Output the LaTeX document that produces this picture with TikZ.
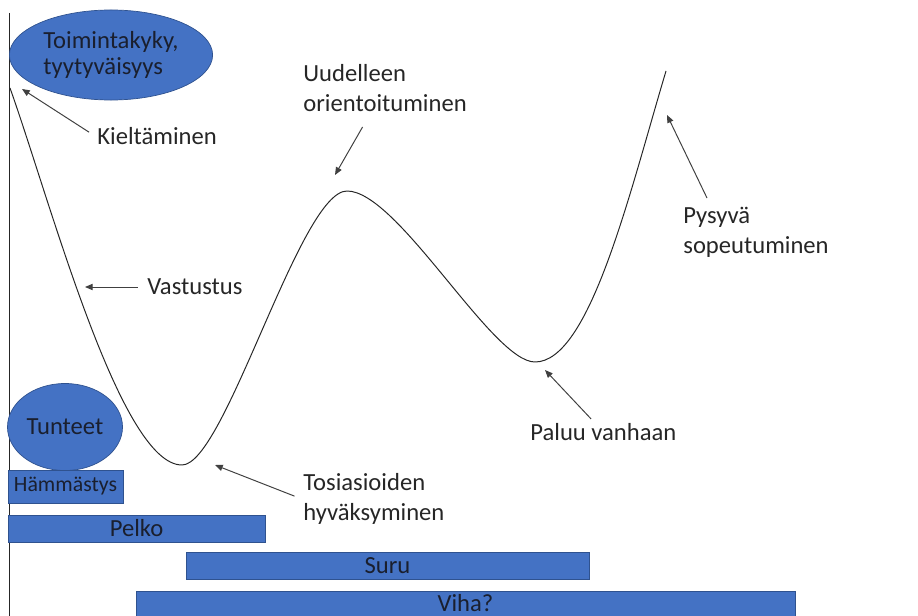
\documentclass[tikz,border=0pt]{standalone}
\usepackage{fontspec}
\setmainfont{Carlito}
\usepackage{tikz}
\usetikzlibrary{arrows.meta,shapes.geometric}

\definecolor{boxblue}{HTML}{4472C4}
\definecolor{boxedge}{HTML}{2F528F}
\definecolor{inktext}{HTML}{1A1F2E}
\definecolor{labtext}{HTML}{262626}

\tikzset{
  blob/.style={ellipse,fill=boxblue,draw=boxedge,line width=0.5pt,inner sep=0pt,text=inktext},
  bar/.style={rectangle,fill=boxblue,draw=boxedge,line width=0.5pt,inner sep=0pt,text=inktext},
  lbl/.style={inner sep=1.5pt,text=labtext,align=left},
  arr/.style={draw=black!75,line width=0.7pt,-{Triangle[length=5.5pt,width=4.5pt]}},
  curve/.style={draw=black!85,line width=0.7pt}
}

\begin{document}
\begin{tikzpicture}[x=0.025cm,y=-0.025cm,font=\fontsize{17.5}{21}\selectfont]
  \useasboundingbox (0,0) rectangle (918,616);

  % the axis on the left
  \draw[black!85,line width=0.7pt] (9,13) -- (9,616);

  % the curve
  \draw[curve] (10,88) .. controls (50,200) and (120,465) .. (182,465)
               .. controls (225,465) and (300,191) .. (347,191)
               .. controls (398,191) and (492,362) .. (535,362)
               .. controls (590,362) and (630,191) .. (666,71);

  % the two ellipses
  \node[blob,minimum width=5.08cm,minimum height=2.25cm,align=left,
        font=\fontsize{17.5}{18.5}\selectfont] (toim) at (111,55) {Toimintakyky,\\tyytyväisyys};
  \node[blob,minimum width=2.875cm,minimum height=2.175cm] (tunt) at (65,427) {Tunteet};

  % the feeling bars
  \node[bar,minimum width=2.875cm,minimum height=0.825cm,font=\fontsize{15.5}{18}\selectfont] (hamm) at (65.5,486.5) {Hämmästys};
  \node[bar,minimum width=6.425cm,minimum height=0.675cm] (pelko) at (136.5,528.5) {Pelko};
  \node[bar,minimum width=10.075cm,minimum height=0.675cm] (suru) at (387.5,565.5) {Suru};
  \node[bar,minimum width=16.475cm,minimum height=0.625cm] (viha) at (465.5,603.5) {Viha?};

  % stage labels
  \node[lbl,anchor=west] (kiel) at (95,136) {Kieltäminen};
  \node[lbl,anchor=west] (vast) at (145,287) {Vastustus};
  \node[lbl,anchor=north west] (uud) at (301,62) {Uudelleen\\orientoituminen};
  \node[lbl,anchor=north west] (tosi) at (301,471) {Tosiasioiden\\hyväksyminen};
  \node[lbl,anchor=west] (palu) at (528,432) {Paluu vanhaan};
  \node[lbl,anchor=north west] (pysy) at (681,205) {Pysyvä\\sopeutuminen};

  % arrow ends on the curve
  \coordinate (kielTip) at (22,89);
  \coordinate (vastTip) at (85,287);
  \coordinate (uudTip) at (335,175);
  \coordinate (tosiTip) at (215,465);
  \coordinate (paluTip) at (545,370);
  \coordinate (pysyTip) at (667,115);

  % arrows
  \draw[arr,shorten <=5pt] (kiel.west) -- (kielTip);
  \draw[arr,shorten <=5pt] (vast.west) -- (vastTip);
  \draw[arr,shorten <=11pt] (uud) -- (uudTip);
  \draw[arr,shorten <=5pt] (tosi.west) -- (tosiTip);
  \draw[arr,shorten <=2pt] (palu) -- (paluTip);
  \draw[arr] ([shift={(26,-7)}]pysy.north west) -- (pysyTip);
\end{tikzpicture}
\end{document}
